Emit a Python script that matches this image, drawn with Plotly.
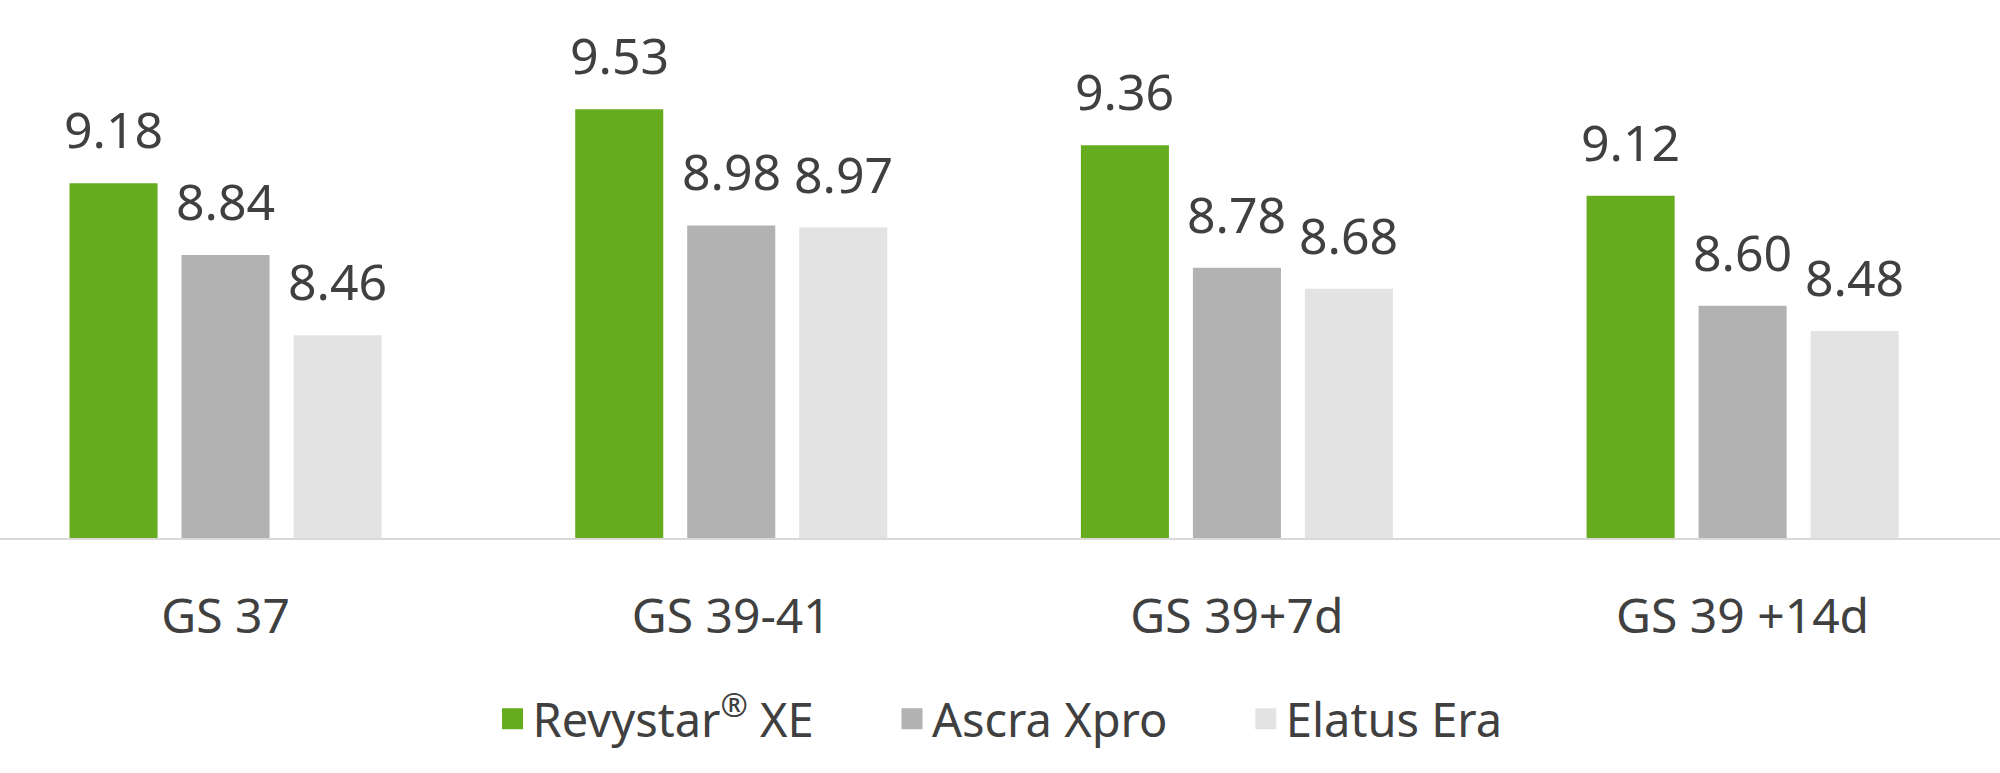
import plotly.graph_objects as go

categories = ["GS 37", "GS 39-41", "GS 39+7d", "GS 39 +14d"]
series_names = ["Revystar<sup>®</sup> XE", "Ascra Xpro", "Elatus Era"]
revystar = [9.18, 9.53, 9.36, 9.12]
ascra = [8.84, 8.98, 8.78, 8.60]
elatus = [8.46, 8.97, 8.68, 8.48]
colors = ["#65AC1E", "#B2B2B2", "#E3E3E3"]

series_values = [revystar, ascra, elatus]
x_idx = list(range(len(categories)))

BARGAP = 0.3355
BARGROUPGAP = 0.214
TEXT_COLOR = "#404040"
FONT = "Noto Sans"

fig = go.Figure()
n = len(series_values)
for j, (name, vals, col) in enumerate(zip(series_names, series_values, colors)):
    fig.add_trace(go.Bar(
        x=x_idx, y=vals, name=name, marker=dict(color=col, line=dict(width=0)),
        showlegend=False, hoverinfo="skip",
    ))
    pad = "\u00a0" * 6 if j < n - 1 else ""
    fig.add_trace(go.Scatter(
        x=[None], y=[None], mode="markers", name=name + pad,
        marker=dict(symbol="square", size=16, color=col, line=dict(width=5, color=col)),
        showlegend=True, hoverinfo="skip",
    ))

# value labels above bars
slot = (1 - BARGAP) / n
annotations = []
for j, vals in enumerate(series_values):
    off = (j - (n - 1) / 2) * slot
    for i, v in enumerate(vals):
        annotations.append(dict(
            x=i + off, y=v, xref="x", yref="y", text=f"{v:.2f}",
            showarrow=False, yanchor="bottom", xanchor="center", yshift=18,
            font=dict(family=FONT, size=50, color=TEXT_COLOR),
        ))

fig.update_layout(
    width=2000, height=773,
    margin=dict(l=0, r=0, t=10, b=235),
    paper_bgcolor="white", plot_bgcolor="white",
    barmode="group", bargap=BARGAP, bargroupgap=BARGROUPGAP,
    font=dict(family=FONT, color=TEXT_COLOR),
    annotations=annotations,
    legend=dict(
        orientation="h", x=0.5, xanchor="center", y=-0.343, yanchor="middle",
        font=dict(family=FONT, size=47, color=TEXT_COLOR),
        itemsizing="trace", bgcolor="rgba(0,0,0,0)",
    ),
    xaxis=dict(
        range=[-0.446, 3.509], tickmode="array", tickvals=x_idx, ticktext=categories,
        showgrid=False, zeroline=False, showline=True, linecolor="#D9D9D9", linewidth=2,
        ticks="", ticklabelstandoff=35,
        tickfont=dict(family=FONT, size=48, color=TEXT_COLOR),
    ),
    yaxis=dict(range=[7.5, 10], visible=False, showgrid=False, zeroline=False),
    showlegend=True,
)

fig.write_html(
    "out.html",
    config={"displayModeBar": False},
    post_script="document.body.style.margin='0';document.body.style.overflow='hidden';",
)
